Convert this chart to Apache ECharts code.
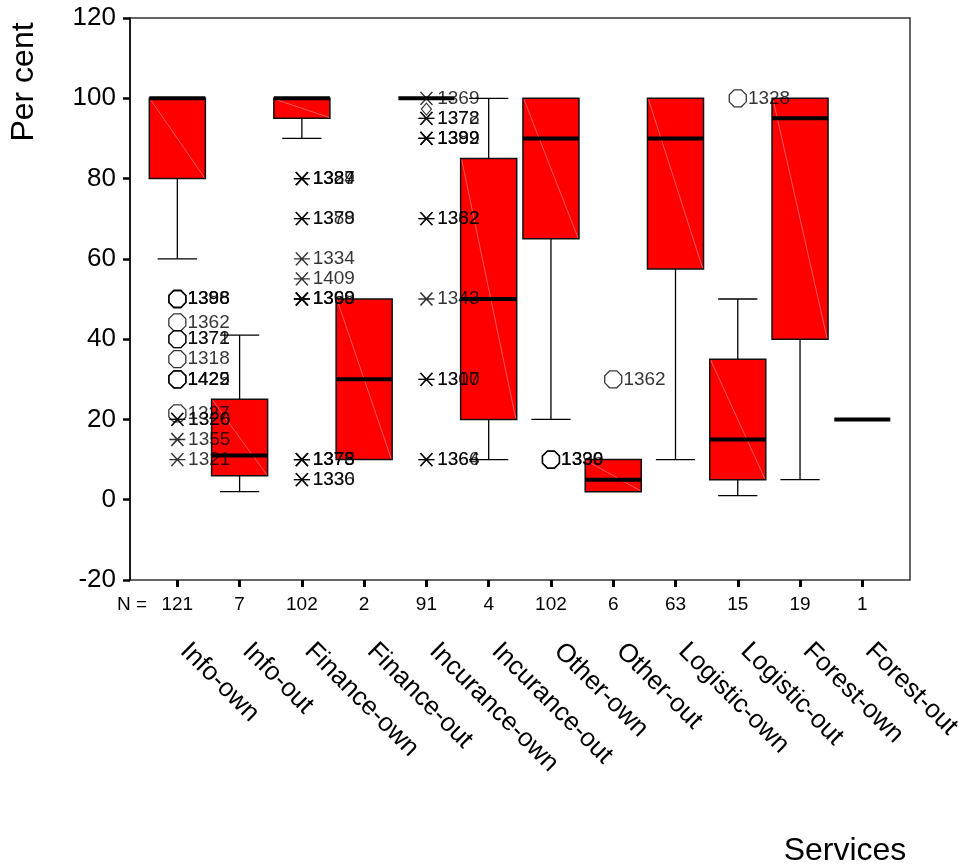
<!DOCTYPE html>
<html>
<head>
<meta charset="utf-8">
<script src="https://cdn.jsdelivr.net/npm/echarts@6/dist/echarts.min.js"></script>
<style>
html,body{margin:0;padding:0;background:#fff;}
#chart{width:968px;height:867px;}
</style>
</head>
<body>
<div id="chart"></div>
<script>
// ---- data ----
const categories = ['Info-own','Info-out','Finance-own','Finance-out','Incurance-own','Incurance-out','Other-own','Other-out','Logistic-own','Logistic-out','Forest-own','Forest-out'];
const nCounts = [121,7,102,2,91,4,102,6,63,15,19,1];
const whiskerLow  = [60, 2, 90, 10, 100, 10, 20, 2, 10, 1, 5, 20];
const quartile1   = [80, 6, 95, 10, 100, 20, 65, 2, 57.5, 5, 40, 20];
const medians     = [100, 11, 100, 30, 100, 50, 90, 5, 90, 15, 95, 20];
const quartile3   = [100, 25, 100, 50, 100, 85, 100, 10, 100, 35, 100, 20];
const whiskerHigh = [100, 41, 100, 50, 100, 100, 100, 10, 100, 50, 100, 20];

// outliers (circle) and extremes (star): [category index, value, case ids]
const circleOutliers = [
  [0, 50, ['1388','1396','1398']],
  [0, 44.2, ['1362']],
  [0, 40, ['1371','1372']],
  [0, 35, ['1318']],
  [0, 30, ['1422','1425','1429']],
  [0, 21.5, ['1327']],
  [6, 10, ['1336','1339','1390']],
  [7, 30, ['1362']],
  [9, 100, ['1328']]
];
const starExtremes = [
  [0, 20, ['1320','1326']],
  [0, 15, ['1355']],
  [0, 10, ['1321']],
  [2, 80, ['1384','1387','1329']],
  [2, 70, ['1379','1388']],
  [2, 60, ['1334']],
  [2, 55, ['1409']],
  [2, 50, ['1368','1399','1360']],
  [2, 10, ['1373','1375','1378']],
  [2, 5, ['1330','1336']],
  [4, 100, ['1369']],
  [4, 95, ['1372','1378']],
  [4, 90, ['1389','1392','1399']],
  [4, 70, ['1382','1362']],
  [4, 50, ['1343']],
  [4, 30, ['1307','1310']],
  [4, 10, ['1364','1366']]
];
const diamondPoints = [
  [4, 97.3]
];
const yTicks = {min: -20, max: 120, interval: 20};

// ---- build ----
const boxData = categories.map((c, i) => [i, whiskerLow[i], quartile1[i], medians[i], quartile3[i], whiskerHigh[i]]);
function expand(list) {
  const out = [];
  list.forEach(p => p[2].forEach(id => out.push({name: id, value: [p[0], p[1]]})));
  return out;
}
const FONT = '"Liberation Sans", Arial, Helvetica, sans-serif';
const octagon = 'path://M2.9,0L7.1,0L10,2.9L10,7.1L7.1,10L2.9,10L0,7.1L0,2.9Z';
const star = 'path://M2,0L14,12M14,0L2,12M0,6L16,6';
const diamond = 'path://M5,0L10,6L5,12L0,6Z';

const chart = echarts.init(document.getElementById('chart'), null, {renderer: 'canvas'});
const band = 62.27;
const gLeft = 146.2;

const labelCommon = {
  show: true, position: 'right', distance: 1,
  formatter: p => p.name, fontSize: 19, color: '#000', fontFamily: FONT
};

chart.setOption({
  backgroundColor: '#fff',
  animation: false,
  textStyle: {fontFamily: FONT},
  grid: [
    {left: 130, top: 18, width: 780, height: 562, show: true, borderColor: '#333', borderWidth: 1.5, backgroundColor: 'transparent'},
    {left: gLeft, top: 18, width: band * 12, height: 562, show: false}
  ],
  xAxis: [
    {gridIndex: 0, type: 'value', min: 0, max: 1, show: false},
    {gridIndex: 1, type: 'category', data: nCounts.map(String), position: 'bottom', boundaryGap: true,
     axisLine: {show: false, onZero: false},
     axisTick: {show: true, alignWithLabel: true, length: 7, lineStyle: {color: '#000', width: 3}},
     axisLabel: {interval: 0, fontSize: 19, color: '#000', margin: 15, fontFamily: FONT},
     splitLine: {show: false}},
    {gridIndex: 1, type: 'category', data: categories, position: 'bottom', boundaryGap: true,
     axisLine: {show: false, onZero: false}, axisTick: {show: false},
     axisLabel: {interval: 0, rotate: -45, fontSize: 26, color: '#000', margin: 60, padding: [0, 0, 0, 10], fontFamily: FONT},
     splitLine: {show: false}}
  ],
  yAxis: [
    {gridIndex: 0, type: 'value', min: yTicks.min, max: yTicks.max, interval: yTicks.interval,
     axisLine: {show: true, lineStyle: {color: '#000', width: 1.5}},
     axisTick: {show: true, length: 7, lineStyle: {color: '#000', width: 2.5}},
     axisLabel: {fontSize: 26, color: '#000', margin: 14, fontFamily: FONT},
     splitLine: {show: false}},
    {gridIndex: 1, type: 'value', min: yTicks.min, max: yTicks.max, show: false}
  ],
  graphic: [
    {type: 'text', x: 147, y: 605, style: {text: 'N =', font: '19px ' + FONT, fill: '#000', align: 'right', verticalAlign: 'middle'}},
    {type: 'text', x: 24, y: 82, rotation: Math.PI / 2, style: {text: 'Per cent', font: '32px ' + FONT, fill: '#000', align: 'center', verticalAlign: 'middle'}},
    {type: 'text', x: 845, y: 851, style: {text: 'Services', font: '32px ' + FONT, fill: '#000', align: 'center', verticalAlign: 'middle'}}
  ],
  series: [
    {
      type: 'custom', xAxisIndex: 1, yAxisIndex: 1, z: 2,
      encode: {x: 0, y: [1, 2, 3, 4, 5]},
      data: boxData,
      renderItem: function (params, api) {
        const i = api.value(0);
        const wl = api.value(1), q1 = api.value(2), med = api.value(3), q3 = api.value(4), wh = api.value(5);
        const bs = api.size([1, 0])[0];
        const bw = bs * 0.9, cw = bs * 0.63;
        const cx = api.coord([i, med])[0];
        const Y = v => api.coord([i, v])[1];
        const ls = {stroke: '#000', lineWidth: 1.3};
        const ch = [];
        if (wh > q3) {
          ch.push({type: 'line', shape: {x1: cx, y1: Y(q3), x2: cx, y2: Y(wh)}, style: ls});
          ch.push({type: 'line', shape: {x1: cx - cw / 2, y1: Y(wh), x2: cx + cw / 2, y2: Y(wh)}, style: ls});
        }
        if (wl < q1) {
          ch.push({type: 'line', shape: {x1: cx, y1: Y(q1), x2: cx, y2: Y(wl)}, style: ls});
          ch.push({type: 'line', shape: {x1: cx - cw / 2, y1: Y(wl), x2: cx + cw / 2, y2: Y(wl)}, style: ls});
        }
        const yt = Y(q3), yb = Y(q1);
        if (yb - yt > 0.5) {
          ch.push({type: 'rect', shape: {x: cx - bw / 2, y: yt, width: bw, height: yb - yt},
                   style: {fill: '#ff0000', stroke: '#111', lineWidth: 1.5}});
          ch.push({type: 'line', shape: {x1: cx - bw / 2 + 1, y1: yt + 1, x2: cx + bw / 2 - 1, y2: yb - 1},
                   style: {stroke: 'rgba(255,235,235,0.55)', lineWidth: 0.7}});
        }
        ch.push({type: 'line', shape: {x1: cx - bw / 2, y1: Y(med), x2: cx + bw / 2, y2: Y(med)},
                 style: {stroke: '#000', lineWidth: 4}});
        return {type: 'group', children: ch};
      }
    },
    {
      type: 'scatter', xAxisIndex: 1, yAxisIndex: 1, z: 5,
      symbol: octagon, symbolSize: 17,
      itemStyle: {color: 'rgba(0,0,0,0)', borderColor: '#000', borderWidth: 1.3},
      label: labelCommon,
      data: expand(circleOutliers)
    },
    {
      type: 'scatter', xAxisIndex: 1, yAxisIndex: 1, z: 5,
      symbol: star, symbolSize: [16, 13],
      itemStyle: {color: 'rgba(0,0,0,0)', borderColor: '#000', borderWidth: 1.4},
      label: Object.assign({}, labelCommon, {distance: 2}),
      data: expand(starExtremes)
    },
    {
      type: 'scatter', xAxisIndex: 1, yAxisIndex: 1, z: 5,
      symbol: diamond, symbolSize: [10, 12],
      itemStyle: {color: 'rgba(0,0,0,0)', borderColor: '#000', borderWidth: 1.2},
      data: diamondPoints
    }
  ]
});
</script>
</body>
</html>
